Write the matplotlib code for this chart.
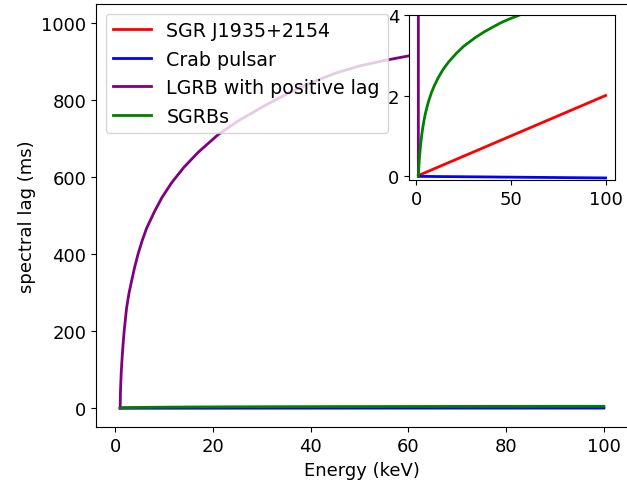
"""Spectral lag vs energy for four source classes, with zoomed inset of the low-lag ones."""
import matplotlib
matplotlib.use("Agg")
import matplotlib.pyplot as plt

plt.rcParams["font.size"] = 13

# energy grid (keV) and lags (ms)
energy = [1.0, 1.05, 1.1, 1.2, 1.3, 1.5, 1.8, 2.3, 2.8, 3.3, 4.0, 4.7, 5.5, 6.4, 8, 9.5,
          11.5, 14, 17, 21, 25, 31, 36, 41, 45, 50, 55, 60, 65, 70, 80, 90, 100]
sgr_lag = [0.02, 0.021, 0.022, 0.024, 0.026, 0.03, 0.036, 0.046, 0.056, 0.066, 0.08,
           0.094, 0.11, 0.128, 0.16, 0.19, 0.23, 0.28, 0.34, 0.42, 0.5, 0.62, 0.72,
           0.82, 0.9, 1.0, 1.1, 1.2, 1.3, 1.4, 1.6, 1.8, 2.0]
crab_lag = [0.0, 0.0, 0.0, 0.0, -0.001, -0.001, -0.001, -0.001, -0.001, -0.001, -0.002,
            -0.002, -0.002, -0.003, -0.003, -0.004, -0.005, -0.006, -0.007, -0.008,
            -0.01, -0.012, -0.014, -0.016, -0.018, -0.02, -0.022, -0.024, -0.026,
            -0.028, -0.032, -0.036, -0.04]
lgrb_lag = [0, 40, 58, 88, 111, 150, 198, 259, 298, 328, 368, 402, 435, 467, 510, 546,
            585, 625, 665, 710, 745, 789, 822, 850, 870, 889, 903, 915, 927, 938, 959,
            980, 1000]
sgrb_lag = [0.0, 0.05, 0.1, 0.18, 0.26, 0.41, 0.59, 0.83, 1.03, 1.19, 1.39, 1.55, 1.7,
            1.86, 2.08, 2.25, 2.44, 2.64, 2.83, 3.04, 3.22, 3.43, 3.58, 3.71, 3.81,
            3.91, 4.0, 4.09, 4.17, 4.25, 4.38, 4.5, 4.6]

series = [("SGR J1935+2154", sgr_lag, "red"),
          ("Crab pulsar", crab_lag, "blue"),
          ("LGRB with positive lag", lgrb_lag, "purple"),
          ("SGRBs", sgrb_lag, "green")]

fig = plt.figure(figsize=(6.27, 4.89), dpi=100)
ax = fig.add_axes([0.1531, 0.1241, 0.8485, 0.8657])
for name, lag, col in series:
    ax.plot(energy, lag, color=col, lw=2, label=name)
ax.set_xlabel("Energy (keV)")
ax.set_ylabel("spectral lag (ms)")
ax.legend(loc="upper left", fontsize=13.7)

ins = fig.add_axes([0.6523, 0.6299, 0.3285, 0.338])
for name, lag, col in series:
    ins.plot(energy, lag, color=col, lw=2)
ins.set_ylim(-0.09, 4)
ins.set_yticks([0, 2, 4])
ins.set_xticks([0, 50, 100])

fig.savefig("out.png", dpi=100)
